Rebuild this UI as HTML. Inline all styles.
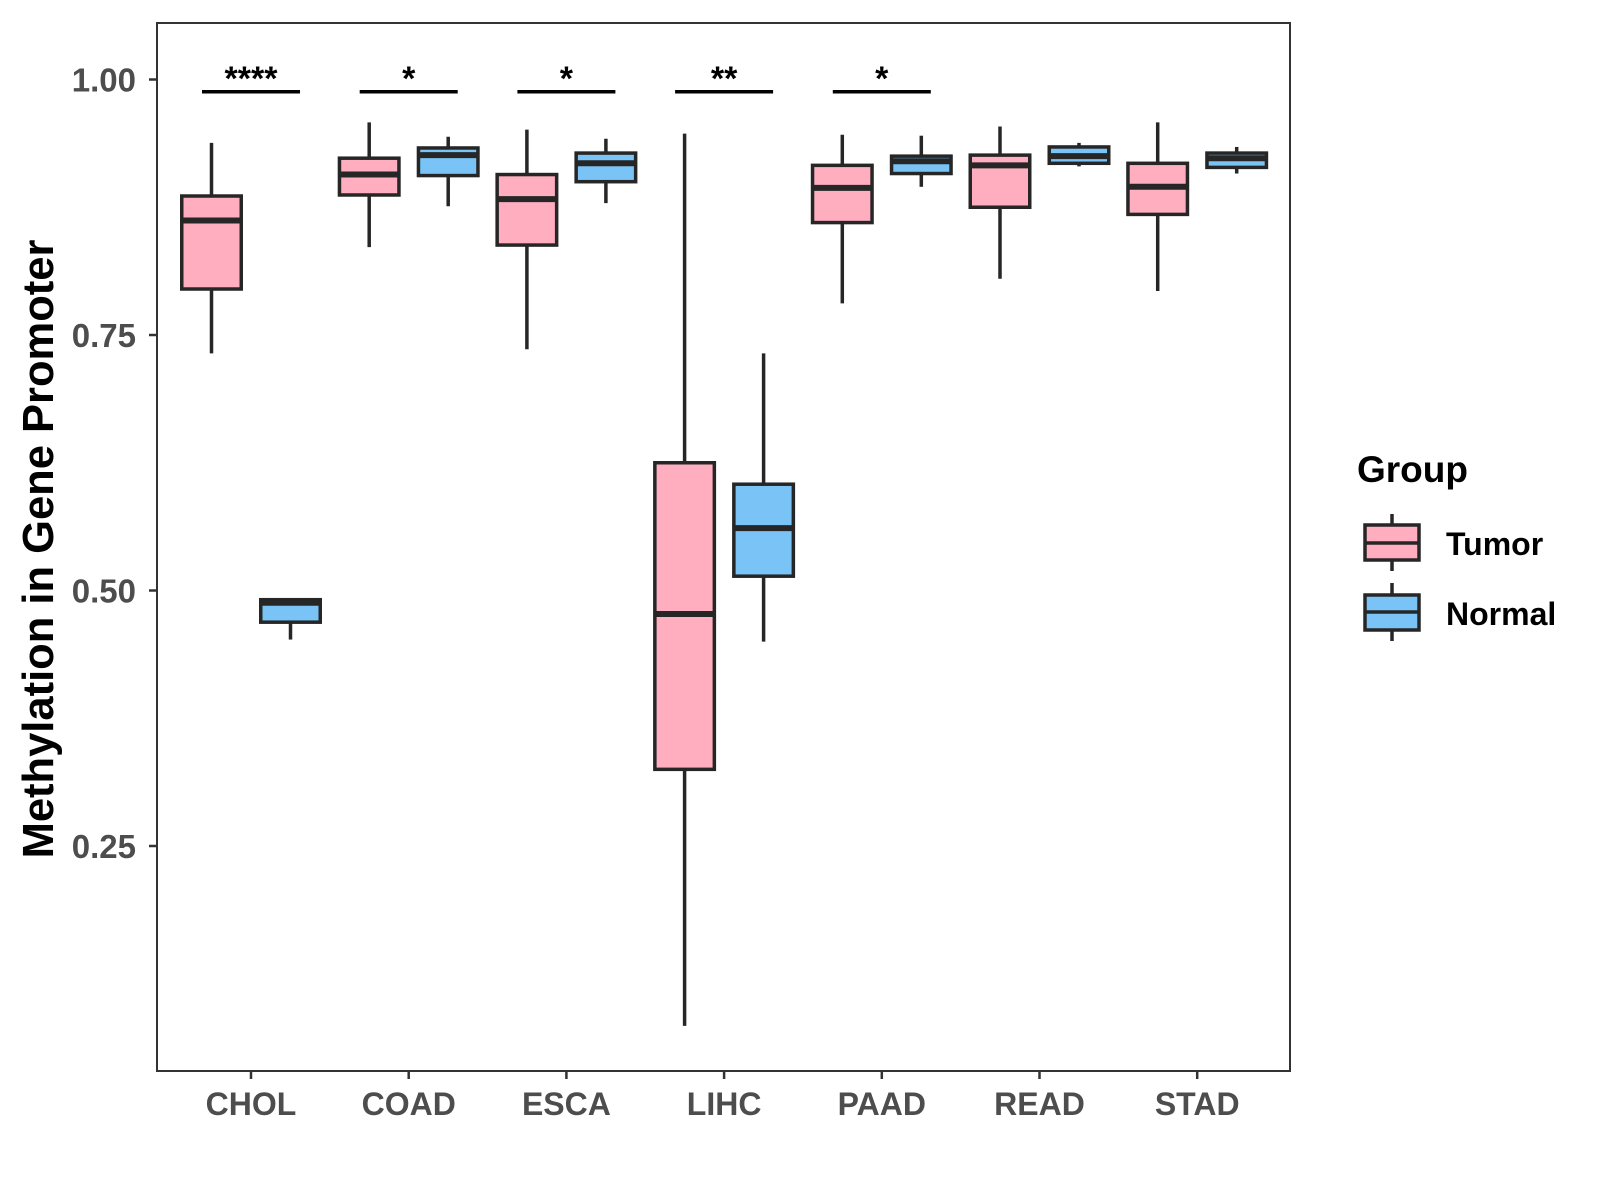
<!DOCTYPE html>
<html><head><meta charset="utf-8"><style>
html,body{margin:0;padding:0;background:#fff}
svg{display:block;font-family:"Liberation Sans",sans-serif}
</style></head><body>
<svg id="chart" width="1600" height="1200" viewBox="0 0 1600 1200">
<rect x="157" y="23" width="1133" height="1048" fill="#fff" stroke="#333" stroke-width="2"/>
<g id="marks"></g>
<text transform="translate(53,549) rotate(-90)" text-anchor="middle" font-size="43.5" font-weight="bold" fill="#000">Methylation in Gene Promoter</text>
<g transform="translate(-7,-2)">
<text x="1364" y="484" font-size="37" font-weight="bold" fill="#000">Group</text>
<g>
<line x1="1399" y1="516" x2="1399" y2="573" stroke="#262626" stroke-width="3.5"/>
<rect x="1372" y="527" width="54" height="35" fill="#FFAEC0" stroke="#262626" stroke-width="3.5"/>
<line x1="1372" y1="545" x2="1426" y2="545" stroke="#262626" stroke-width="3.5"/>
<text x="1453" y="557" font-size="32" font-weight="bold" fill="#000">Tumor</text>
</g>
<g>
<line x1="1399" y1="585" x2="1399" y2="643" stroke="#262626" stroke-width="3.5"/>
<rect x="1372" y="597" width="54" height="35" fill="#7AC3F7" stroke="#262626" stroke-width="3.5"/>
<line x1="1372" y1="614" x2="1426" y2="614" stroke="#262626" stroke-width="3.5"/>
<text x="1453" y="627" font-size="32" font-weight="bold" fill="#000">Normal</text>
</g>
</g>
</svg>
<script>
const categories = ["CHOL","COAD","ESCA","LIHC","PAAD","READ","STAD"];
// [whiskerHigh, q3, median, q1, whiskerLow]
const tumorStats = [
 [0.938,0.886,0.862,0.795,0.732],
 [0.958,0.923,0.907,0.887,0.836],
 [0.951,0.907,0.883,0.838,0.736],
 [0.947,0.625,0.477,0.325,0.074],
 [0.946,0.916,0.894,0.860,0.781],
 [0.954,0.926,0.916,0.875,0.805],
 [0.958,0.918,0.895,0.868,0.793]
];
const normalStats = [
 [0.491,0.491,0.488,0.469,0.452],
 [0.944,0.933,0.926,0.906,0.876],
 [0.942,0.928,0.918,0.900,0.879],
 [0.732,0.604,0.561,0.514,0.450],
 [0.945,0.925,0.920,0.908,0.895],
 [0.938,0.934,0.925,0.918,0.915],
 [0.934,0.928,0.923,0.914,0.908]
];
const signifLabels = ["****","*","*","**","*","",""];
const signifLevel = 0.988;
const yTicks = [0.25,0.50,0.75,1.00];
const yTickLabels = ["0.25","0.50","0.75","1.00"];

const NS="http://www.w3.org/2000/svg";
const g=document.getElementById('marks');
function y(v){return 79.5+(1-v)*1022;}
function x(i){return 251+i*157.7;}
function mk(tag,attrs,parent){const e=document.createElementNS(NS,tag);for(const k in attrs)e.setAttribute(k,attrs[k]);(parent||g).appendChild(e);return e;}

yTicks.forEach((t,i)=>{
  const tk=mk('line',{x1:149,x2:157,y1:y(t),y2:y(t),stroke:'#333','stroke-width':2.5});
  
  
  const lb=mk('text',{x:136,y:y(t)+12,'text-anchor':'end','font-size':33,'font-weight':'bold',fill:'#4d4d4d'});
  lb.textContent=yTickLabels[i];
  
  
});
categories.forEach((c,i)=>{
  const tk=mk('line',{x1:x(i),x2:x(i),y1:1071,y2:1079,stroke:'#333','stroke-width':2.5});
  
  
  const lb=mk('text',{x:x(i),y:1115,'text-anchor':'middle','font-size':32,'font-weight':'bold',fill:'#4d4d4d'});
  lb.textContent=c;
  
  
});
function box(cx,s,fill,name){
  const w=59.5;
  const grp=mk('g',{});
  
  
  mk('line',{x1:cx,x2:cx,y1:y(s[0]),y2:y(s[4]),stroke:'#262626','stroke-width':3.5},grp);
  mk('rect',{x:cx-w/2,y:y(s[1]),width:w,height:y(s[3])-y(s[1]),fill:fill,stroke:'#262626','stroke-width':3.5},grp);
  mk('line',{x1:cx-w/2,x2:cx+w/2,y1:y(s[2]),y2:y(s[2]),stroke:'#262626','stroke-width':6},grp);
}
categories.forEach((c,i)=>{
  box(x(i)-39.5,tumorStats[i],'#FFAEC0','box-tumor-'+c.toLowerCase());
  box(x(i)+39.5,normalStats[i],'#7AC3F7','box-normal-'+c.toLowerCase());
  if(signifLabels[i]){
    const ln=mk('line',{x1:x(i)-49,x2:x(i)+49,y1:y(signifLevel),y2:y(signifLevel),stroke:'#000','stroke-width':3.5});
    
    
    const st=mk('text',{x:x(i),y:y(signifLevel)-2,'text-anchor':'middle','font-size':34,'font-weight':'bold',fill:'#000'});
    st.textContent=signifLabels[i];
    
    
  }
});
</script>
</body></html>
